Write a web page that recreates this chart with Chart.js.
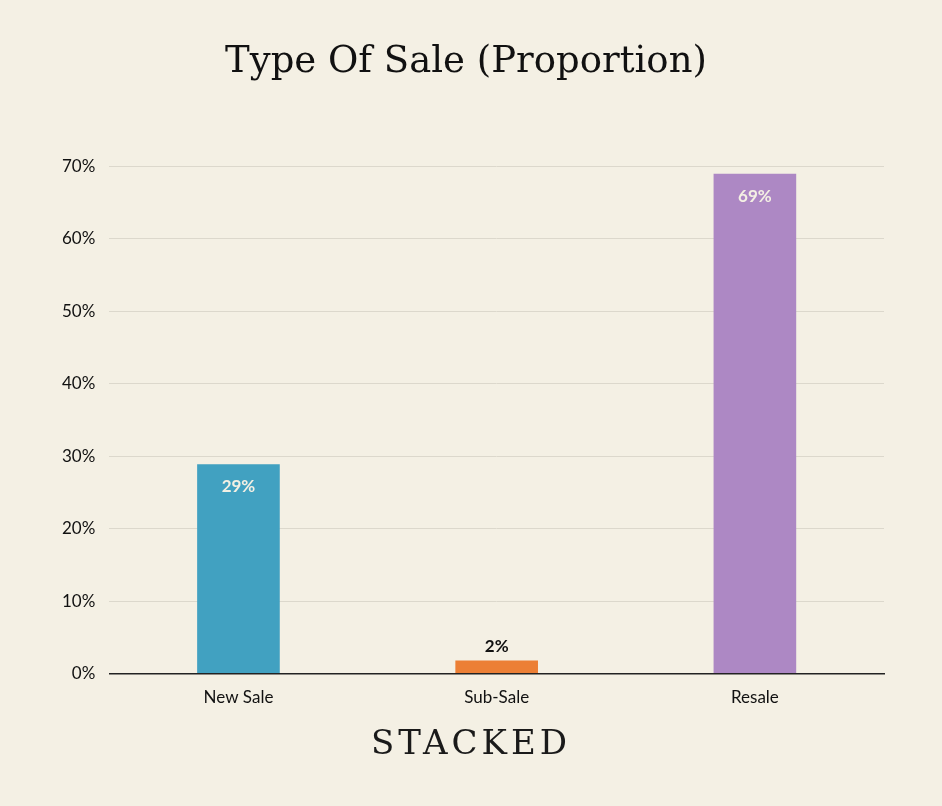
<!DOCTYPE html>
<html>
<head>
<meta charset="utf-8">
<script src="https://cdn.jsdelivr.net/npm/chart.js@4"></script>
<style>
  html, body { margin: 0; padding: 0; background: #f4f0e4; }
  #wrap { position: relative; width: 942px; height: 806px; }
  #brand { position: absolute; left: 0; width: 942px; top: 722px; text-align: center;
    font-family: "DejaVu Serif", "Liberation Serif", serif; font-size: 34px; letter-spacing: 4px; color: #1a1a1a; }
</style>
</head>
<body>
<div id="wrap">
  <canvas id="c" width="942" height="806"></canvas>
  <div id="brand">STACKED</div>
</div>
<script>
const categories = ['New Sale', 'Sub-Sale', 'Resale']
const values = [28.9, 1.8, 69]
const valueLabels = ['29%', '2%', '69%']
const barColors = ['#41a1c1', '#ec7f35', '#ad88c4']
const yTicks = [0, 10, 20, 30, 40, 50, 60, 70]

// draws value labels: inside the bar top for tall bars, above for short ones
const valueLabelPlugin = {
  id: 'valueLabels',
  afterDatasetsDraw(chart) {
    const ctx = chart.ctx
    const meta = chart.getDatasetMeta(0)
    ctx.save()
    ctx.font = 'bold 17px Lato, sans-serif'
    ctx.textAlign = 'center'
    meta.data.forEach((bar, i) => {
      const h = bar.base - bar.y
      if (h > 40) {
        ctx.fillStyle = '#f4f0e4'
        ctx.textBaseline = 'top'
        ctx.fillText(valueLabels[i], bar.x, bar.y + 14)
      } else {
        ctx.fillStyle = '#111'
        ctx.textBaseline = 'bottom'
        ctx.fillText(valueLabels[i], bar.x, bar.y - 6)
      }
    })
    ctx.restore()
  }
}

new Chart(document.getElementById('c'), {
  type: 'bar',
  data: {
    labels: categories,
    datasets: [{ data: values, backgroundColor: barColors, barPercentage: 0.32, categoryPercentage: 1 }]
  },
  options: {
    responsive: false,
    animation: false,
    layout: { padding: { left: 48, right: 58, top: 40, bottom: 92 } },
    plugins: {
      legend: { display: false },
      tooltip: { enabled: false },
      title: {
        display: true,
        text: 'Type Of Sale (Proportion)',
        color: '#111',
        font: { family: '"DejaVu Serif", "Liberation Serif", serif', size: 37, weight: 'normal' },
        padding: { top: 0, bottom: 82 }
      }
    },
    scales: {
      x: {
        grid: { display: false },
        border: { color: '#222', width: 1.5 },
        ticks: { color: '#111', font: { family: 'Lato, sans-serif', size: 17 }, padding: 6 }
      },
      y: {
        min: 0, max: 70,
        afterBuildTicks: axis => { axis.ticks = yTicks.map(v => ({ value: v })) },
        grid: { color: '#dcd8cc', drawTicks: false },
        border: { display: false },
        ticks: { color: '#111', font: { family: 'Lato, sans-serif', size: 17 }, padding: 14, callback: v => v + '%' }
      }
    }
  },
  plugins: [valueLabelPlugin]
})
</script>
</body>
</html>
